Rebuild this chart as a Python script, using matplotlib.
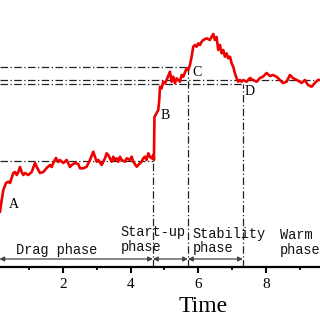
import matplotlib
matplotlib.use("Agg")
import matplotlib.pyplot as plt
from matplotlib.ticker import MultipleLocator

# time axis and signal (arbitrary units)
time = [0.138, 0.188, 0.236, 0.315, 0.383, 0.434, 0.484, 0.531, 0.581, 0.632,
        0.679, 0.729, 0.779, 0.827, 0.877, 0.975, 1.075, 1.173, 1.24, 1.32,
        1.418, 1.518, 1.616, 1.666, 1.714, 1.793, 1.861, 1.912, 2.009, 2.11,
        2.207, 2.257, 2.355, 2.452, 2.503, 2.60, 2.70, 2.798, 2.896, 2.946,
        2.996, 3.044, 3.144, 3.242, 3.292, 3.339, 3.39, 3.44, 3.487, 3.537,
        3.588, 3.635, 3.685, 3.735, 3.833, 3.883, 3.98, 4.031, 4.078, 4.179,
        4.226, 4.326, 4.374, 4.424, 4.474, 4.521, 4.572, 4.622, 4.67, 4.69,
        4.705, 4.77, 4.817, 4.847, 4.868, 4.918, 4.965, 5.015, 5.065, 5.163,
        5.213, 5.261, 5.311, 5.361, 5.459, 5.509, 5.556, 5.657, 5.704, 5.754,
        5.804, 5.852, 5.902, 5.952, 6.0, 6.05, 6.1, 6.148, 6.248, 6.346,
        6.396, 6.443, 6.493, 6.543, 6.591, 6.641, 6.691, 6.738, 6.789, 6.839,
        6.886, 6.937, 6.987, 7.034, 7.084, 7.135, 7.182, 7.232, 7.282, 7.33,
        7.43, 7.528, 7.617, 7.726, 7.824, 7.912, 8.021, 8.12, 8.208, 8.317,
        8.415, 8.503, 8.613, 8.71, 8.799, 8.908, 9.006, 9.056, 9.154, 9.243,
        9.352, 9.449, 9.538, 9.6]
signal = [5.53, 6.7, 7.7, 8.4, 8.53, 8.4, 8.9, 9.4, 9.5, 9.2,
          9.5, 10.0, 9.5, 9.2, 9.4, 9.2, 9.5, 10.4, 9.9, 9.4,
          9.5, 9.9, 10.2, 10.0, 10.4, 10.9, 10.5, 10.7, 10.4, 10.7,
          10.0, 10.2, 10.4, 10.3, 9.87, 9.87, 10.03, 10.7, 11.53, 11.03,
          10.53, 10.7, 10.2, 10.87, 11.37, 11.2, 10.87, 10.53, 11.03, 10.7,
          10.87, 10.53, 11.03, 10.7, 10.53, 10.87, 10.7, 11.03, 10.53, 10.03,
          10.2, 10.53, 10.87, 11.03, 10.7, 11.37, 11.03, 10.87, 11.2, 10.7,
          15.0, 15.4, 15.7, 16.7, 18.03, 17.87, 18.53, 18.37, 18.7, 19.53,
          18.53, 19.03, 18.37, 18.87, 18.53, 19.2, 19.03, 19.87, 19.7, 20.2,
          21.03, 22.03, 22.2, 22.03, 22.37, 22.2, 22.53, 22.7, 22.87, 22.7,
          23.03, 23.3, 22.7, 23.0, 21.7, 22.2, 21.37, 21.7, 21.03, 21.37,
          20.87, 21.03, 20.37, 20.03, 19.37, 18.87, 18.53, 18.7, 18.53, 18.7,
          18.53, 18.9, 18.7, 18.53, 18.9, 19.03, 19.4, 19.1, 19.2, 19.03,
          18.7, 18.4, 18.53, 19.2, 18.9, 18.7, 18.53, 18.4, 18.7, 18.2,
          18.03, 18.4, 18.7, 18.7]

# phase boundaries and the guide levels that meet them
bounds = [4.66, 5.695, 7.32]
level_b = 10.6
level_c = 20.0
level_mid = 18.7
level_d = 18.3
phase_names = ["Drag phase", "Start-up\nphase", "Stability\nphase", "Warm\nphase"]
points = ["A", "B", "C", "D"]

X0, X1 = 0.138, 9.6
serif = "Liberation Serif"
mono = "Liberation Mono"

fig = plt.figure(figsize=(3.2, 3.2), dpi=100)
ax = fig.add_axes([0, 0.1656, 1, 0.8344])

ax.plot(time, signal, color="#ee0000", lw=1.9, zorder=3)

guide = dict(color="#222222", lw=0.9, linestyle=(0, (6, 2, 1, 2)), zorder=2)
ax.plot([X0, bounds[0]], [level_b, level_b], **guide)
ax.plot([X0, bounds[1]], [level_c, level_c], **guide)
ax.plot([X0, X1], [level_mid, level_mid], **guide)
ax.plot([X0, bounds[2]], [level_d, level_d], **guide)
ax.plot([bounds[0], bounds[0]], [0, level_b], **guide)
ax.plot([bounds[1], bounds[1]], [0, level_c], **guide)
ax.plot([bounds[2], bounds[2]], [0, level_d], **guide)

# double arrows for each phase
arrow_y = 0.8
edges = [0.12] + bounds + [10.2]
for a, b in zip(edges[:-1], edges[1:]):
    ax.annotate("", xy=(b, arrow_y), xytext=(a, arrow_y),
                arrowprops=dict(arrowstyle="<|-|>", color="#444444", lw=0.9,
                                mutation_scale=7, shrinkA=0, shrinkB=0))

txt = dict(family=mono, fontsize=9.8, color="#111111", va="center",
           linespacing=1.05)
ax.text(1.82, 1.75, phase_names[0], ha="center", **txt)
ax.text(3.71, 2.75, phase_names[1], ha="left", **txt)
ax.text(5.84, 2.6, phase_names[2], ha="left", **txt)
ax.text(8.41, 2.45, phase_names[3], ha="left", **txt)

for lab, (tx, ty) in zip(points, [(0.55, 6.3), (5.02, 15.2), (5.96, 19.5), (7.53, 17.6)]):
    ax.text(tx, ty, lab, family=serif, fontsize=10, ha="center", va="center")

ax.set_xlim(X0, X1)
ax.set_ylim(0, 26.7)
for s in ("left", "top", "right"):
    ax.spines[s].set_visible(False)
ax.spines["bottom"].set_linewidth(1.6)
ax.set_yticks([])
ax.xaxis.set_major_locator(MultipleLocator(2))
ax.xaxis.set_minor_locator(MultipleLocator(1))
ax.tick_params(axis="x", which="major", direction="out", length=4, width=1.5,
               labelsize=11, pad=4)
ax.tick_params(axis="x", which="minor", direction="out", length=2.5, width=1.3)
for t in ax.get_xticklabels():
    t.set_family(serif)
ax.set_xlabel("Time", family=serif, fontsize=17)
ax.xaxis.set_label_coords(0.634, -0.11)

fig.savefig("out.png", dpi=100)
